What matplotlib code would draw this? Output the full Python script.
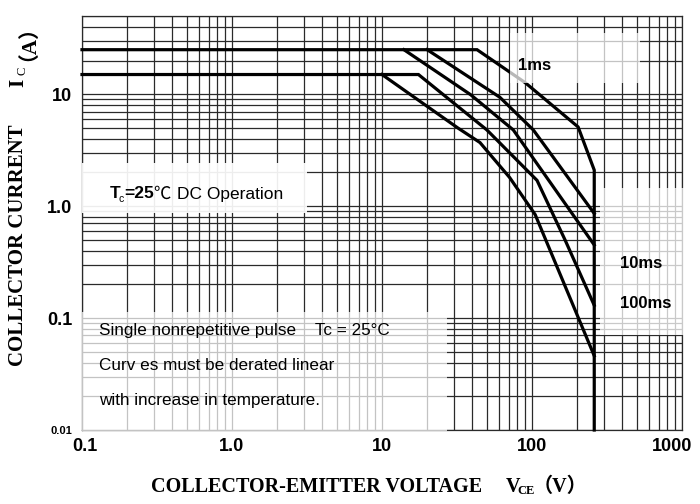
import matplotlib.pyplot as plt
from matplotlib.patches import Rectangle
from matplotlib.ticker import LogLocator, NullFormatter
from matplotlib.transforms import ScaledTranslation

# -------------------------------------------------------
# SAFE OPERATING AREA DATA  (Vce in V, Ic in A)
# -------------------------------------------------------
x_ticks = [0.1, 1, 10, 100, 1000]
x_tick_labels = ["0.1", "1.0", "10", "100", "1000"]
y_ticks = [0.01, 0.1, 1, 10]
y_tick_labels = ["0.01", "0.1", "1.0", "10"]

# 1ms pulse: flat at 25 A then down to the voltage limit
curve_1ms_v = [0.1, 43, 90, 203, 260, 260]
curve_1ms_i = [25, 25, 12.7, 5.1, 2.1, 0.01]

# branches leaving the 25 A line
curve_d_v = [20, 61, 102, 260]
curve_d_i = [25, 9.4, 4.8, 0.86]
curve_c_v = [14, 39, 75, 122, 260]
curve_c_i = [25, 9.9, 4.8, 1.9, 0.45]

# branches leaving the 15 A line
curve_b_v = [0.1, 17.5, 50, 108, 166, 260]
curve_b_i = [15, 15, 4.8, 1.7, 0.5, 0.13]
curve_a_v = [10, 32, 45, 71, 105, 260]
curve_a_i = [15, 5.0, 3.7, 1.8, 0.84, 0.046]

W, H = 700, 504
SANS = ["Liberation Sans", "Noto Sans CJK SC", "DejaVu Sans"]
SERIF = ["Liberation Serif", "Noto Sans CJK SC", "DejaVu Serif"]


def fx(px):
    return px / W


def fy(py):
    return 1 - py / H


fig = plt.figure(figsize=(W / 100, H / 100), dpi=100)
ax = fig.add_axes([fx(82), fy(430), fx(682) - fx(82), fy(16) - fy(430)])
ax.set_xscale("log")
ax.set_yscale("log")
ax.set_xlim(0.1, 1000)
ax.set_ylim(0.01, 50)

ax.xaxis.set_minor_locator(LogLocator(base=10, subs=range(2, 10)))
ax.yaxis.set_minor_locator(LogLocator(base=10, subs=range(2, 10)))
ax.xaxis.set_minor_formatter(NullFormatter())
ax.yaxis.set_minor_formatter(NullFormatter())
ax.grid(which="both", color="#2a2a2a", linewidth=0.9)
ax.set_axisbelow(True)
for spine in ax.spines.values():
    spine.set_color("#2a2a2a")
    spine.set_linewidth(0.9)
ax.tick_params(which="both", length=0)
ax.tick_params(axis="x", pad=6)
ax.tick_params(axis="y", pad=7)

ax.set_xticks(x_ticks)
ax.set_xticklabels(x_tick_labels, family=SANS, fontweight="bold", fontsize=13)
ax.set_yticks(y_ticks)
ax.set_yticklabels(y_tick_labels, family=SANS, fontweight="bold", fontsize=13)
ax.get_yticklabels()[0].set_fontsize(8)

# pull the end labels slightly inwards like the original sheet
xl = ax.get_xticklabels()
xl[0].set_transform(xl[0].get_transform() + ScaledTranslation(0.03, 0, fig.dpi_scale_trans))
xl[-1].set_transform(xl[-1].get_transform() + ScaledTranslation(-0.10, 0, fig.dpi_scale_trans))

# curves
for v, i in [(curve_1ms_v, curve_1ms_i), (curve_d_v, curve_d_i),
             (curve_c_v, curve_c_i), (curve_b_v, curve_b_i),
             (curve_a_v, curve_a_i)]:
    ax.plot(v, i, color="black", linewidth=2.3, solid_joinstyle="miter",
            clip_on=False, zorder=3)

# white label boxes that fade the grid underneath
boxes = [
    (510, 33, 640, 83, 0.72),
    (82, 163, 307, 213, 0.92),
    (82, 312, 447, 431, 0.72),
    (600, 188, 700, 335, 0.75),
]
for x0, y0, x1, y1, a in boxes:
    fig.add_artist(Rectangle((fx(x0), fy(y1)), fx(x1) - fx(x0), fy(y0) - fy(y1),
                             transform=fig.transFigure, facecolor="white",
                             edgecolor="none", alpha=a, zorder=5))

# curve labels
fig.text(fx(518), fy(65), "1ms", family=SANS, fontweight="bold", fontsize=12,
         va="center", zorder=6)
fig.text(fx(620), fy(264), "10ms", family=SANS, fontweight="bold", fontsize=12,
         va="center", zorder=6)
fig.text(fx(620), fy(304), "100ms", family=SANS, fontweight="bold", fontsize=12,
         va="center", zorder=6)

# Tc=25 DC Operation
fig.text(fx(110), fy(194), "T", family=SANS, fontweight="bold", fontsize=12.5,
         va="center", zorder=6)
fig.text(fx(118.5), fy(199), "c", family=SANS, fontsize=7.5, va="center", zorder=6)
fig.text(fx(124), fy(194), "=25", family=SANS, fontweight="bold", fontsize=12.5,
         va="center", zorder=6)
fig.text(fx(153), fy(194), "℃", family=SANS, fontsize=12.5, va="center", zorder=6)
fig.text(fx(177), fy(194), "DC Operation", family=SANS, fontsize=12.5,
         va="center", zorder=6)

# notes
notes = ["Single nonrepetitive pulse    Tc = 25°C",
         "Curv es must be derated linear",
         "with increase in temperature."]
for k, line in enumerate(notes):
    fig.text(fx(99), fy(330 + k * 35), line, family=SANS, fontsize=12.3,
             va="center", zorder=6)

# axis titles
fig.text(fx(18), fy(245), "COLLECTOR CURRENT", family=SERIF, fontweight="bold",
         fontsize=15, rotation=90, ha="center", va="center")
fig.text(fx(18), fy(83), "I", family=SERIF, fontweight="bold", fontsize=15,
         rotation=90, ha="center", va="center")
fig.text(fx(22), fy(71), "C", family=SERIF, fontsize=9, rotation=90,
         ha="center", va="center")
fig.text(fx(18), fy(33), "（A）", family=SERIF, fontweight="bold", fontsize=15,
         rotation=90, ha="center", va="center")

fig.text(fx(317), fy(487), "COLLECTOR-EMITTER VOLTAGE", family=SERIF,
         fontweight="bold", fontsize=14.5, ha="center", va="center")
fig.text(fx(506), fy(487), "V", family=SERIF, fontweight="bold", fontsize=14.5,
         va="center")
fig.text(fx(517), fy(491), "CE", family=SERIF, fontweight="bold", fontsize=9,
         va="center")
fig.text(fx(533), fy(487), "（V）", family=SERIF, fontweight="bold", fontsize=14.5,
         va="center")

plt.savefig("out.png", dpi=100, facecolor="white")
plt.close()
